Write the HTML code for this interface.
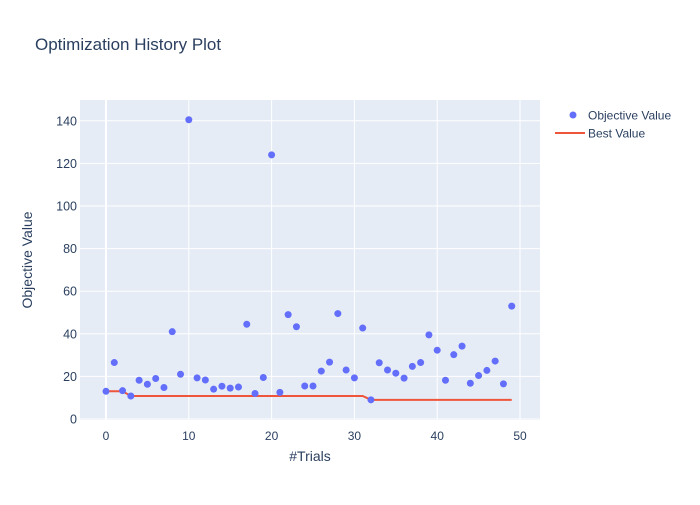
<!DOCTYPE html>
<html><head><meta charset="utf-8"><style>
body{margin:0;background:#fff}
svg text{font-family:"Liberation Sans",Arial,sans-serif;fill:#2a3f5f}
</style></head><body>
<svg id="chart" width="700" height="500" xmlns="http://www.w3.org/2000/svg">
<rect width="700" height="500" fill="#fff"/>
<text x="35" y="50" font-size="17">Optimization History Plot</text>
<rect x="80" y="100" width="460" height="320" fill="#e5ecf6"/>
<g id="grid"></g><g id="ticks"></g><g id="marks"></g>
<text x="310" y="461" font-size="14" text-anchor="middle">#Trials</text>
<text transform="translate(32,260) rotate(-90)" font-size="14" text-anchor="middle">Objective Value</text>
<g>
<circle cx="573" cy="115" r="3.5" fill="#636efa"/>
<text x="588" y="119.5" font-size="12">Objective Value</text>
<line x1="555" y1="133" x2="585" y2="133" stroke="#ef553b" stroke-width="2"/>
<text x="588" y="137.5" font-size="12">Best Value</text>
</g>
</svg>
<script>
const trials=[...Array(50).keys()];
const objectiveValues=[13,26.5,13.3,10.8,18.2,16.3,19,14.8,41,21,140.5,19.3,18.3,14,15.4,14.5,15,44.5,12,19.5,124,12.5,49,43.3,15.5,15.5,22.5,26.7,49.5,23,19.3,42.7,9,26.4,23,21.5,19.2,24.7,26.5,39.5,32.3,18.2,30.2,34.2,16.8,20.4,22.8,27.2,16.5,53];
const xTicks=[0,10,20,30,40,50];
const yTicks=[0,20,40,60,80,100,120,140];
const NS="http://www.w3.org/2000/svg";
const xs=v=>106+v*8.28;
const ys=v=>419-v*2.13;
function mk(tag,attrs,parent,txt){const e=document.createElementNS(NS,tag);for(const k in attrs)e.setAttribute(k,attrs[k]);if(txt!==undefined)e.textContent=txt;document.getElementById(parent).appendChild(e);return e;}
xTicks.forEach(t=>{
 const l=mk('line',{x1:xs(t),x2:xs(t),y1:100,y2:420,stroke:'#fff','stroke-width':t===0?2:1},'grid');
 
 
 const tx=mk('text',{x:xs(t),y:440,'font-size':12,'text-anchor':'middle'},'ticks',t);
 
 
});
yTicks.forEach(t=>{
 const l=mk('line',{x1:80,x2:540,y1:ys(t),y2:ys(t),stroke:'#fff','stroke-width':1},'grid');
 
 
 const tx=mk('text',{x:77,y:ys(t)+4.5,'font-size':12.5,'text-anchor':'end'},'ticks',t);
 
 
});
let best=Infinity;const pts=[];
objectiveValues.forEach((v,i)=>{best=Math.min(best,v);pts.push(xs(trials[i])+','+ys(best));});
const pl=mk('polyline',{points:pts.join(' '),fill:'none',stroke:'#ef553b','stroke-width':2},'marks');


objectiveValues.forEach((v,i)=>{
 const c=mk('circle',{cx:xs(trials[i]),cy:ys(v),r:3.5,fill:'#636efa'},'marks');
 
 
});
</script>
</body></html>
